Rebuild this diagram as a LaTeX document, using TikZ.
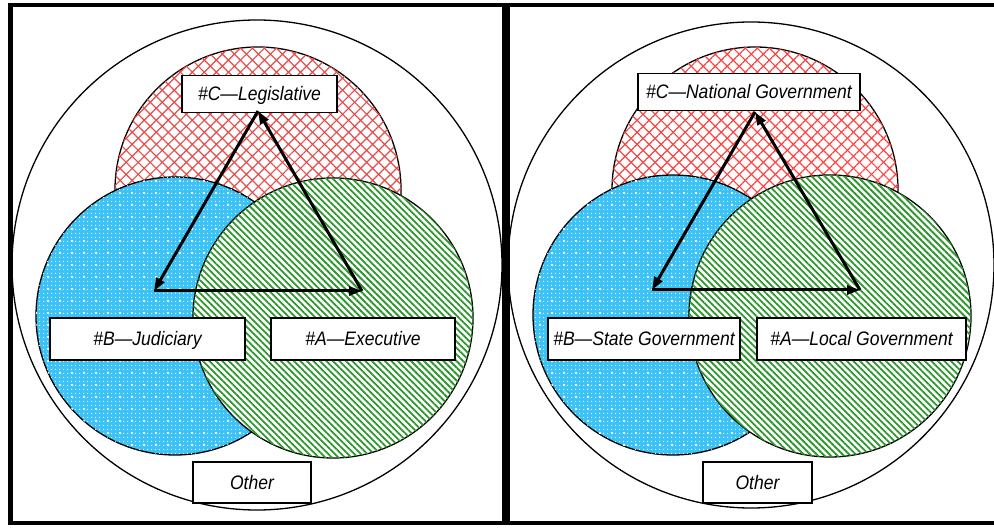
\documentclass[tikz,border=0pt]{standalone}
\usepackage{fontspec}
\setmainfont{Liberation Sans}[FakeStretch=0.9]
\usetikzlibrary{arrows.meta,patterns,patterns.meta}

\definecolor{hatchred}{RGB}{245,70,70}
\definecolor{skyfill}{RGB}{60,195,245}
\definecolor{stripegreen}{RGB}{45,150,45}

\tikzset{
  frameline/.style={line width=#1, black},
  outerring/.style={draw=black, line width=1.3pt, fill=white},
  redset/.style={draw=black, line width=1.3pt, fill=white,
    postaction={pattern={Lines[angle=45,distance=8.5pt,line width=1.2pt]}, pattern color=hatchred},
    postaction={pattern={Lines[angle=-45,distance=8.5pt,line width=1.2pt]}, pattern color=hatchred}},
  blueset/.style={draw=black, line width=1.3pt, fill=skyfill,
    postaction={pattern={Dots[radius=0.7pt,distance=4pt]}, pattern color=white},
    postaction={pattern={Dots[radius=1.4pt,distance=12pt]}, pattern color=white}},
  greenset/.style={draw=black, line width=1.3pt, fill=white,
    postaction={pattern={Lines[angle=-45,distance=4.6pt,line width=1.8pt]}, pattern color=stripegreen}},
  tag/.style={draw=black, line width=1.1pt, fill=white, inner sep=0pt,
    minimum height=#1, text height=15pt, text depth=1pt,
    font=\fontsize{19.5}{22}\selectfont\itshape},
  tag/.default=37pt,
  flow/.style={line width=3pt, -{Triangle[length=13pt,width=9pt]}},
}

\begin{document}
\begin{tikzpicture}[x=1pt,y=-1pt]
  \useasboundingbox (0,0) rectangle (994,529);
  \fill[white] (0,0) rectangle (994,529);

  % ---------- left panel: branches of government ----------
  \path[outerring] (257,265) circle[radius=245pt];
  \path[redset]   (258,190) circle[radius=143pt];
  \path[blueset]  (175,316) circle[radius=139pt];
  \path[greenset] (333,318) circle[radius=140pt];

  \node[tag, minimum width=155pt] (legC) at (259.5,94) {\#C---Legislative};
  \node[tag=42pt, minimum width=195pt] (judB) at (147.5,339) {\#B---Judiciary};
  \node[tag=42pt, minimum width=184pt] (exeA) at (363,339) {\#A---Executive};
  \node[tag=41pt, minimum width=118pt] (othL) at (252,482.5) {Other};

  \coordinate (lapex) at (258,111);
  \coordinate (lleft) at (154,291);
  \coordinate (lright) at (362,291);
  \draw[flow] (lapex) -- (lleft);
  \draw[flow] (lleft) -- (lright);
  \draw[flow] (lright) -- (lapex);

  % ---------- right panel: levels of government ----------
  \path[outerring] (751,265) circle[radius=243pt];
  \path[redset]   (755,190) circle[radius=143pt];
  \path[blueset]  (673,315) circle[radius=140pt];
  \path[greenset] (830,316) circle[radius=141pt];

  \node[tag, minimum width=222pt] (natC) at (749,92) {\#C---National Government};
  \node[tag=42pt, minimum width=192pt] (staB) at (644,339) {\#B---State Government};
  \node[tag=42pt, minimum width=209pt] (locA) at (861.5,339) {\#A---Local Government};
  \node[tag=41pt, minimum width=109pt] (othR) at (757.5,482.5) {Other};

  \coordinate (rapex) at (755,112);
  \coordinate (rleft) at (652,290);
  \coordinate (rright) at (860,290);
  \draw[flow] (rapex) -- (rleft);
  \draw[flow] (rleft) -- (rright);
  \draw[flow] (rright) -- (rapex);

  % ---------- frame ----------
  \draw[frameline=3.5pt] (9,5) -- (1000,5);
  \draw[frameline=4pt] (9,522.5) -- (1000,522.5);
  \draw[frameline=5pt] (10.5,3.25) -- (10.5,524.5);
  \draw[frameline=8pt] (506,3.25) -- (506,524.5);
\end{tikzpicture}
\end{document}
